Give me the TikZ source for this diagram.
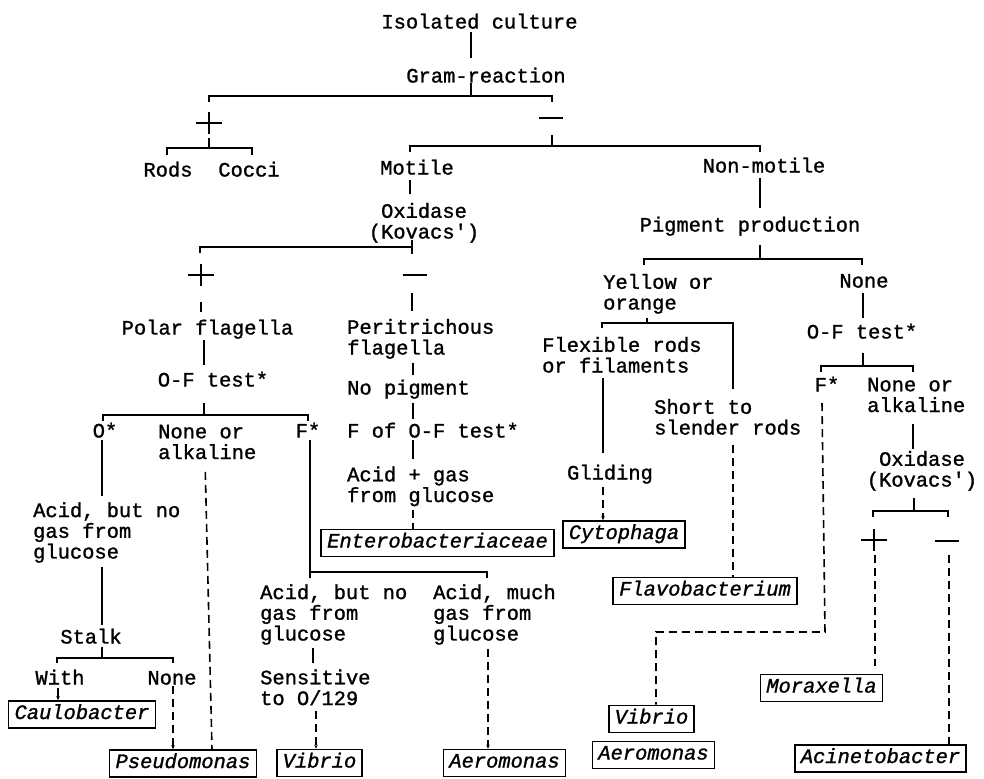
\documentclass[tikz,border=0pt]{standalone}
\usepackage{fontspec}
\setmonofont{Liberation Mono}[RawFeature={embolden=1.2}]
\usetikzlibrary{arrows.meta}
\newcommand\plusat[2]{\draw[ln] (#1-13,#2) -- (#1+13,#2) (#1,#2-11) -- (#1,#2+11);}
\newcommand\minusat[2]{\draw[ln] (#1-12,#2) -- (#1+12,#2);}
\begin{document}
\begin{tikzpicture}[x=1bp,y=-1bp,
 txt/.style={font=\ttfamily\fontsize{20.5}{20.8}\selectfont,inner sep=0pt},
 lbl/.style={txt,anchor=base},
 ml/.style={txt,align=left,anchor=base west},
 mc/.style={txt,align=center,anchor=base},
 genus/.style={draw,line width=1.6bp,font=\ttfamily\itshape\fontsize{20.5}{20.8}\selectfont,inner xsep=6bp,inner ysep=0pt,text height=15bp,text depth=6bp,minimum height=27bp},
 ln/.style={line width=1.6bp},
 dl/.style={line width=1.6bp,dash pattern=on 8bp off 5bp},
 tip/.style={-{Stealth[length=4bp,width=3.5bp]}},
]
\fill[white] (0,0) rectangle (984,779);
\useasboundingbox (0,0) rectangle (984,779);
% ---------- text nodes (multi-line nodes are placed by the baseline of their last line)
\node[lbl] (iso) at (479.5,28.5) {Isolated culture};
\node[lbl] (gram) at (486,82.5) {Gram-reaction};
\node[lbl] (rods) at (168,176.5) {Rods};
\node[lbl] (cocci) at (249,176.5) {Cocci};
\node[lbl] (motile) at (417,174.5) {Motile};
\node[lbl] (nonmot) at (764,172.5) {Non-motile};
\node[mc] (oxid) at (424,238.5) {Oxidase\\(Kovacs')};
\node[lbl] (pigm) at (750,231.5) {Pigment production};
\node[ml] (yellow) at (603,309.5) {Yellow or\\orange};
\node[lbl] (none1) at (864,287.5) {None};
\node[lbl] (polar) at (207.5,334.5) {Polar flagella};
\node[ml] (perit) at (347,354.5) {Peritrichous\\flagella};
\node[lbl] (oft2) at (862,338.5) {O-F test*};
\node[ml] (flex) at (542,372.5) {Flexible rods\\or filaments};
\node[lbl] (oft1) at (213,386.5) {O-F test*};
\node[ml] (nopig) at (347,394.5) {No pigment};
\node[lbl] (fstar2) at (827,391.5) {F*};
\node[ml] (nalk2) at (867,412) {None or\\alkaline};
\node[ml] (short) at (654,434.5) {Short to\\slender rods};
\node[lbl] (ostar) at (105,437.5) {O*};
\node[ml] (nalk1) at (158,459) {None or\\alkaline};
\node[lbl] (fstar1) at (308,437.5) {F*};
\node[ml] (fof) at (347,437.5) {F of O-F test*};
\node[mc] (oxid2) at (922,486.5) {Oxidase\\(Kovacs')};
\node[ml] (acidgas) at (347,502) {Acid + gas\\from glucose};
\node[lbl] (gliding) at (610,479.5) {Gliding};
\node[ml] (acid1) at (33,558.5) {Acid, but no\\gas from\\glucose};
\node[ml] (acid2) at (260,640.5) {Acid, but no\\gas from\\glucose};
\node[ml] (acid3) at (433,640.5) {Acid, much\\gas from\\glucose};
\node[lbl] (stalk) at (91,643.5) {Stalk};
\node[lbl] (with) at (60,684.5) {With};
\node[lbl] (nones) at (172,684.5) {None};
\node[ml] (sens) at (260,705) {Sensitive\\to O/129};
% ---------- genus boxes
\node[genus] (entero) at (437.5,543) {Enterobacteriaceae};
\node[genus] (cyto) at (624,534.5) {Cytophaga};
\node[genus] (flavo) at (705,591) {Flavobacterium};
\node[genus] (caulo) at (82,714.5) {Caulobacter};
\node[genus] (pseudo) at (183,763.5) {Pseudomonas};
\node[genus] (vibrio1) at (319.5,763) {Vibrio};
\node[genus] (aero1) at (504.5,763) {Aeromonas};
\node[genus] (vibrio2) at (651.5,719) {Vibrio};
\node[genus] (aero2) at (653.5,755) {Aeromonas};
\node[genus] (morax) at (821.5,688) {Moraxella};
\node[genus] (acin) at (880.5,758.5) {Acinetobacter};
% ---------- junction coordinates
\coordinate (j1) at (471,96);
\coordinate (j2) at (410,0);
\coordinate (j3) at (412,247);
\coordinate (j4) at (204,415);
\coordinate (j5) at (413,0);
\coordinate (j6) at (102,658);
\coordinate (j7) at (760,259);
\coordinate (j8) at (647,323);
\coordinate (j9) at (863,366);
\coordinate (j10) at (914,511);
% ---------- left / top part
\draw[ln,shorten <=3.5bp,shorten >=9.5bp] (iso.south -| j1) -- (gram.north -| j1);
\draw[ln] (gram.south -| j1) -- (j1);
\draw[ln] (209,102) -- (209,96) -- (552,96) -- (552,102);
\plusat{209}{123}
\draw[ln] (209,138) -- (209,148);
\draw[ln] (167,155) -- (167,148) -- (252,148) -- (252,155);
\minusat{551}{118}
\draw[ln] (552,135) -- (552,146);
\draw[ln] (410,152) -- (410,146) -- (760,146) -- (760,152);
\draw[ln,shorten <=5.5bp,shorten >=8.5bp] (motile.south -| j2) -- (oxid.north -| j2);
\draw[ln] (412,240) -- (412,254);
\draw[ln] (200,253) -- (200,247) -- (j3);
\plusat{201}{275}
\draw[ln] (201,302) -- (201,312);
\minusat{415}{275}
\draw[ln,shorten >=7.5bp] (412,293) -- (perit.north -| 412,0);
\draw[ln,shorten <=1bp,shorten >=6.5bp] (polar.south -| j4) -- (oft1.north -| j4);
\draw[ln,shorten <=16.5bp] (oft1.south -| j4) -- (j4);
\draw[ln] (103,421) -- (103,415) -- (308,415) -- (308,421);
\draw[ln,shorten <=4bp,shorten >=4.5bp] (perit.south -| j5) -- (nopig.north -| j5);
\draw[ln,shorten <=4bp,shorten >=4bp] (nopig.south -| j5) -- (fof.north -| j5);
\draw[ln,shorten <=2bp,shorten >=7bp] (fof.south -| j5) -- (acidgas.north -| j5);
\draw[dl,shorten <=4bp] (acidgas.south -| j5) -- (entero.north -| j5);
\draw[ln,shorten <=2.5bp,shorten >=6.5bp] (ostar.south -| 102,0) -- (acid1.north -| 102,0);
\draw[ln,shorten <=4bp,shorten >=3.5bp] (acid1.south -| j6) -- (stalk.north -| j6);
\draw[ln,shorten <=3.5bp] (stalk.south -| j6) -- (j6);
\draw[ln] (57,663) -- (57,658) -- (173,658) -- (173,663);
\draw[ln,tip,shorten <=3.5bp] (with.south -| 58,0) -- (caulo.north -| 58,0);
\draw[dl,tip,shorten <=1.5bp] (nones.south -| 173,0) -- (pseudo.north -| 173,0);
\draw[dl,shorten <=12.5bp] (nalk1.south -| 205,0) -- (pseudo.north -| 212,0);
\draw[ln,shorten <=2.5bp] (fstar1.south -| 310,0) -- (310,578);
\draw[ln] (310,572) -- (487,572) -- (487,578);
\draw[ln,shorten <=3bp,shorten >=6.5bp] (acid2.south -| 313,0) -- (sens.north -| 313,0);
\draw[dl,tip,shorten <=6bp] (sens.south -| 316,0) -- (vibrio1.north -| 316,0);
\draw[dl,tip,shorten <=4bp] (acid3.south -| 488,0) -- (aero1.north -| 488,0);
% ---------- right part
\draw[ln,shorten <=5.5bp,shorten >=8.5bp] (nonmot.south -| j7) -- (pigm.north -| j7);
\draw[ln,shorten <=9bp] (pigm.south -| j7) -- (j7);
\draw[ln] (644,265) -- (644,259) -- (862,259) -- (862,265);
\draw[ln,shorten <=4bp] (yellow.south -| j8) -- (j8);
\draw[ln,shorten >=10bp] (602,328) -- (602,323) -- (733,323) -- (short.north -| 733,0);
\draw[ln,shorten <=5.5bp,shorten >=11.5bp] (flex.south -| 603,0) -- (gliding.north -| 603,0);
\draw[dl,tip,shorten <=3bp] (gliding.south -| 603,0) -- (cyto.north -| 603,0);
\draw[dl,shorten <=10.5bp] (short.south -| 733,0) -- (flavo.north -| 733,0);
\draw[ln,shorten <=5.5bp,shorten >=5.5bp] (none1.south -| j9) -- (oft2.north -| j9);
\draw[ln,shorten <=14.5bp] (oft2.south -| j9) -- (j9);
\draw[ln] (821,372) -- (821,366) -- (913,366) -- (913,372);
\draw[dl] ([yshift=-11.5bp]fstar2.south -| 822,0) -- (825,632) -- (656,632) -- (vibrio2.north -| 656,0);
\draw[ln,shorten <=11.5bp,shorten >=1.5bp] (nalk2.south -| 913,0) -- (oxid2.north -| 913,0);
\draw[ln,shorten <=7bp] (oxid2.south -| j10) -- (j10);
\draw[ln] (873,517) -- (873,511) -- (948,511) -- (948,517);
\plusat{874}{540}
\minusat{947}{541}
\draw[dl,shorten >=8bp] (875,555) -- (morax.north -| 875,0);
\draw[dl] (949,555) -- (acin.north -| 949,0);
\end{tikzpicture}
\end{document}
